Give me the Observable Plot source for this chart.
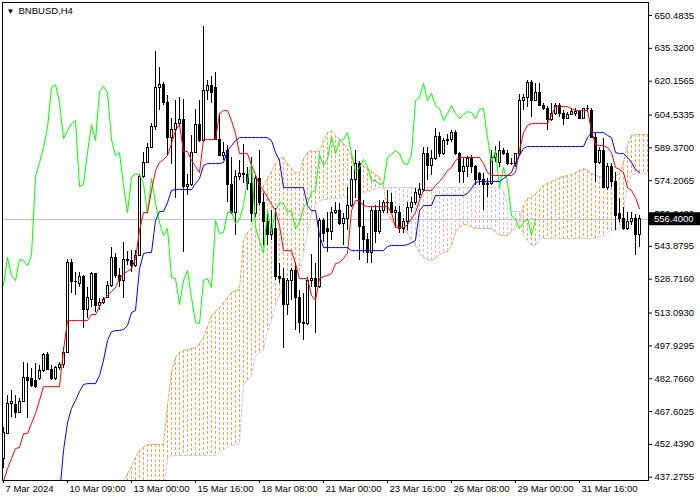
<!DOCTYPE html>
<html><head><meta charset="utf-8">
<script src="https://cdn.jsdelivr.net/npm/d3@7"></script>
<script src="https://cdn.jsdelivr.net/npm/@observablehq/plot@0.6"></script>
<style>body{margin:0;background:#fff;} svg{display:block;}</style>
</head><body><div id="chart"></div>
<script>
const symbol = "BNBUSD,H4";
const xTickBars = [0, 16, 32, 48, 64, 80, 96, 112, 128, 144];
const xTickLabels = ["7 Mar 2024", "10 Mar 09:00", "13 Mar 00:00", "15 Mar 16:00", "18 Mar 08:00", "21 Mar 00:00", "23 Mar 16:00", "26 Mar 08:00", "29 Mar 00:00", "31 Mar 16:00"];
const yTickValues = [650.4835, 635.3200, 620.1565, 604.5335, 589.3700, 574.2065, 559.0430, 543.8795, 528.7160, 513.0930, 497.9295, 482.7660, 467.6025, 452.4390, 437.2755];
const lastPrice = 556.4;

const opens = [
445.9, 457.4, 471.3, 470.8, 467.1, 471.8, 483.3, 482.8, 481.9, 482.8,
486.5, 493.5, 487.0, 482.8, 487.5, 489.3, 494.8, 536.4, 527.2, 526.3,
529.5, 514.7, 518.9, 530.9, 516.5, 517.9, 520.2, 525.8, 538.7, 530.4,
528.1, 537.8, 537.3, 535.0, 539.6, 576.1, 582.6, 589.5, 598.8, 617.2,
618.6, 610.3, 593.7, 597.4, 600.6, 602.0, 571.5, 572.4, 587.2, 600.1,
592.7, 615.4, 617.7, 616.8, 593.2, 585.8, 588.1, 572.0, 559.5, 575.7,
577.5, 577.0, 572.9, 559.0, 575.2, 563.7, 554.9, 548.9, 552.1, 529.5,
529.0, 517.0, 528.1, 532.7, 520.2, 508.7, 508.2, 528.1, 529.0, 524.9,
555.8, 552.1, 550.3, 559.5, 560.0, 554.4, 556.3, 562.7, 574.7, 582.1,
552.6, 546.6, 540.6, 560.4, 550.3, 560.4, 564.1, 563.7, 559.5, 559.5,
552.1, 554.9, 561.8, 564.1, 567.8, 569.7, 586.3, 581.2, 584.0, 594.6,
586.7, 592.7, 593.2, 596.4, 586.7, 578.0, 580.3, 584.0, 580.7, 577.5,
574.3, 572.4, 572.9, 584.9, 582.6, 588.1, 586.3, 582.1, 581.7, 586.3,
611.2, 612.6, 619.1, 611.2, 614.5, 608.9, 607.5, 602.0, 605.2, 608.9,
605.2, 602.9, 604.7, 605.2, 605.7, 602.9, 607.1, 606.6, 594.1, 582.6,
588.1, 571.0, 580.3, 573.4, 559.0, 556.7, 552.1, 554.9, 556.7, 548.9
];
const highs = [
460.2, 475.0, 477.3, 475.0, 473.6, 490.2, 489.8, 487.5, 489.8, 488.8,
494.4, 494.8, 488.8, 488.4, 490.2, 497.2, 537.8, 537.8, 531.8, 531.8,
530.4, 524.9, 531.8, 531.3, 519.8, 520.2, 527.6, 543.3, 540.6, 533.6,
545.6, 541.5, 541.9, 541.9, 577.0, 587.2, 591.4, 600.6, 633.8, 626.5,
619.5, 613.5, 602.9, 611.2, 612.6, 611.7, 577.0, 595.1, 607.1, 611.2,
645.4, 620.5, 622.3, 624.2, 605.2, 591.8, 590.4, 584.9, 578.9, 583.5,
590.9, 580.3, 584.9, 576.6, 588.1, 568.3, 559.0, 560.4, 561.3, 535.9,
533.6, 529.0, 533.6, 536.4, 523.5, 522.1, 529.5, 540.1, 535.9, 556.7,
556.7, 559.5, 561.8, 564.1, 563.7, 559.0, 571.0, 580.7, 588.1, 583.1,
565.0, 549.8, 561.8, 562.7, 565.0, 565.0, 569.7, 568.3, 562.3, 562.3,
556.7, 564.1, 566.4, 570.6, 572.9, 589.5, 589.5, 588.1, 598.3, 596.4,
593.7, 595.5, 597.4, 597.4, 587.2, 584.4, 585.4, 585.8, 581.2, 578.0,
577.5, 575.2, 588.1, 590.0, 592.3, 589.1, 588.1, 584.4, 586.7, 614.0,
614.0, 620.5, 620.5, 619.1, 619.1, 609.8, 608.4, 609.8, 609.8, 609.8,
606.6, 605.7, 607.5, 607.5, 606.6, 607.5, 608.9, 607.5, 596.0, 589.5,
593.7, 582.1, 582.1, 578.0, 566.0, 561.8, 559.5, 559.5, 558.6, 558.1
];
const lows = [
441.3, 457.4, 464.8, 464.4, 466.7, 471.8, 464.4, 478.7, 478.2, 481.9,
485.6, 486.5, 481.9, 481.9, 486.5, 487.5, 494.8, 522.1, 521.2, 524.9,
505.9, 510.5, 515.6, 513.3, 514.2, 517.0, 519.8, 524.9, 529.0, 524.9,
519.8, 535.0, 531.8, 534.1, 539.2, 575.2, 582.1, 589.1, 597.4, 606.6,
608.9, 585.8, 581.7, 566.0, 598.8, 541.0, 567.4, 571.5, 586.7, 591.8,
591.8, 611.2, 609.8, 592.7, 585.4, 583.5, 564.1, 558.6, 548.9, 574.3,
572.9, 569.7, 554.9, 557.2, 562.7, 544.3, 544.3, 546.6, 528.1, 526.7,
496.7, 511.9, 518.9, 505.0, 503.6, 500.4, 507.3, 524.9, 503.6, 524.4,
545.6, 541.0, 546.6, 558.6, 553.5, 544.3, 551.2, 561.8, 566.0, 537.3,
540.6, 535.9, 535.9, 545.2, 549.3, 559.0, 559.0, 559.0, 552.1, 549.8,
549.8, 551.2, 559.5, 562.7, 566.0, 568.7, 574.3, 576.6, 583.5, 584.9,
585.8, 590.4, 591.8, 585.8, 572.9, 572.9, 575.7, 577.5, 572.0, 572.0,
560.4, 566.4, 572.0, 582.6, 580.3, 585.8, 581.2, 581.2, 580.3, 585.8,
606.6, 608.0, 603.4, 610.8, 608.4, 606.6, 597.4, 601.5, 604.3, 603.4,
599.7, 602.4, 604.3, 603.8, 602.4, 602.4, 605.7, 593.7, 573.4, 581.7,
570.6, 569.7, 571.0, 551.2, 554.9, 551.2, 551.2, 553.5, 539.6, 543.3
];
const closes = [
457.9, 471.3, 471.8, 467.1, 472.2, 483.3, 481.9, 479.6, 479.1, 486.5,
493.5, 487.0, 482.8, 487.5, 489.3, 494.8, 536.4, 527.2, 527.6, 529.5,
514.7, 519.8, 530.9, 516.5, 517.9, 518.9, 525.8, 538.7, 530.4, 528.1,
537.8, 537.3, 535.0, 539.6, 576.1, 582.6, 589.5, 598.8, 617.2, 618.6,
610.3, 593.7, 597.4, 600.6, 602.0, 571.5, 572.4, 587.2, 600.1, 592.7,
615.4, 617.7, 614.9, 593.2, 585.8, 587.2, 572.0, 559.5, 575.7, 577.5,
577.0, 572.9, 559.0, 575.2, 563.7, 554.9, 548.9, 552.1, 529.5, 529.0,
517.0, 528.1, 532.7, 520.2, 508.7, 508.2, 528.1, 529.0, 524.9, 555.8,
549.8, 550.3, 559.5, 560.0, 554.4, 556.3, 562.7, 574.7, 582.1, 552.6,
546.6, 540.6, 560.4, 550.3, 560.4, 564.1, 563.7, 559.5, 560.4, 552.1,
554.9, 561.8, 564.1, 568.7, 569.7, 586.3, 581.2, 584.0, 594.6, 586.7,
592.7, 593.2, 596.4, 586.7, 578.0, 580.3, 584.0, 580.7, 574.3, 574.3,
572.4, 572.9, 584.9, 586.3, 588.1, 586.7, 582.1, 581.7, 586.3, 611.2,
612.6, 619.1, 611.2, 614.5, 608.9, 607.5, 602.0, 605.2, 608.9, 605.2,
602.9, 604.7, 606.1, 605.7, 602.9, 607.1, 607.5, 594.1, 582.6, 588.1,
571.0, 580.3, 573.4, 558.1, 556.7, 552.1, 554.9, 556.7, 548.9, 556.4
];
// Tenkan-sen (red)
const tenkan = [
435.3, 441.3, 445.9, 450.5, 451.0, 457.4, 457.4, 462.1, 466.7, 472.7,
479.1, 479.1, 479.1, 479.1, 479.1, 495.8, 509.6, 509.6, 509.6, 509.6,
509.6, 509.6, 512.4, 512.4, 516.1, 519.3, 521.2, 523.0, 524.9, 529.0,
531.3, 532.3, 533.6, 538.3, 551.2, 559.5, 559.5, 569.7, 578.9, 582.6,
584.0, 585.8, 591.4, 597.4, 600.1, 587.7, 587.7, 583.5, 580.7, 578.0,
593.2, 593.2, 593.2, 593.2, 605.2, 606.6, 606.6, 602.0, 596.0, 586.7,
586.7, 586.7, 581.2, 577.0, 572.0, 569.7, 566.4, 563.2, 560.4, 553.5,
541.9, 541.9, 541.9, 535.9, 529.0, 529.0, 529.0, 521.2, 518.9, 529.0,
529.9, 530.4, 531.3, 535.9, 536.4, 538.3, 540.6, 560.4, 565.0, 565.0,
562.7, 562.3, 562.3, 562.3, 562.3, 562.3, 562.3, 559.5, 552.6, 552.6,
552.6, 553.9, 556.7, 559.5, 565.0, 569.7, 569.7, 569.7, 572.0, 573.8,
576.1, 578.9, 580.3, 583.5, 584.9, 584.9, 584.9, 584.9, 584.9, 584.9,
582.1, 578.0, 576.6, 576.6, 576.6, 576.6, 576.6, 576.6, 578.0, 588.1,
596.4, 599.7, 600.6, 600.6, 600.6, 600.6, 600.6, 604.3, 608.4, 608.4,
608.4, 608.4, 607.5, 606.6, 606.6, 606.6, 606.6, 597.4, 590.9, 590.4,
590.4, 589.5, 587.2, 580.3, 579.4, 578.0, 571.0, 569.7, 566.4, 561.3
];
// Kijun-sen (blue)
const kijun = [
null, null, null, null, null, null, null, null, null, null,
null, null, null, null, 428.8, 449.6, 462.5, 469.0, 472.7, 476.8,
480.1, 480.5, 480.5, 480.5, 484.2, 491.2, 500.4, 504.5, 505.0, 505.0,
505.5, 507.3, 513.3, 514.2, 533.6, 540.6, 541.0, 541.0, 555.8, 560.0,
560.0, 564.1, 569.7, 570.1, 570.1, 570.1, 570.1, 570.1, 572.9, 575.2,
581.2, 582.1, 582.1, 582.1, 582.1, 582.6, 588.1, 590.4, 592.7, 594.1,
594.1, 594.1, 594.1, 594.1, 594.1, 594.1, 594.1, 592.7, 587.2, 583.5,
571.0, 571.0, 571.0, 571.0, 571.0, 571.0, 562.7, 560.4, 560.4, 548.9,
543.3, 543.3, 543.3, 543.3, 543.3, 543.3, 543.3, 541.9, 541.9, 541.9,
541.9, 541.9, 541.9, 541.9, 541.9, 541.9, 543.8, 544.3, 544.3, 544.3,
544.3, 544.7, 545.6, 546.6, 560.4, 562.7, 562.7, 562.7, 567.4, 567.4,
567.4, 567.4, 567.4, 567.4, 567.4, 567.4, 568.3, 570.6, 573.4, 573.8,
573.8, 573.8, 573.8, 573.8, 573.8, 575.2, 576.6, 578.0, 582.6, 585.8,
589.1, 590.0, 590.0, 590.0, 590.0, 590.0, 590.0, 590.0, 590.0, 590.0,
590.0, 590.0, 590.0, 590.0, 590.0, 590.0, 594.1, 596.4, 596.4, 596.4,
596.4, 595.1, 594.1, 587.2, 586.7, 586.7, 584.9, 582.6, 579.4, 578.0
];
// Senkou Span A (sandy brown, dotted)
const senkouA = [
null, null, null, null, null, null, null, null, null, null,
null, null, null, null, null, null, null, null, null, null,
null, null, null, null, null, null, null, null, null, null,
434.8, 439.0, 442.2, 446.4, 449.6, 451.0, 452.4, 452.4, 452.4, 452.4,
452.4, 470.4, 485.6, 492.5, 494.8, 495.8, 496.2, 496.7, 497.2, 499.0,
501.8, 506.9, 511.9, 513.8, 515.6, 517.9, 520.2, 522.6, 523.5, 524.0,
546.6, 550.3, 552.1, 560.4, 566.0, 572.0, 575.2, 578.4, 582.1, 584.4,
584.9, 582.1, 579.8, 578.0, 577.5, 584.4, 587.2, 588.1, 587.7, 587.7,
592.7, 596.4, 597.4, 595.1, 593.2, 591.4, 589.1, 585.4, 583.5, 582.6,
581.2, 579.8, 578.4, 577.0, 575.7, 572.0, 559.0, 555.8, 553.9, 553.0,
552.6, 549.8, 547.0, 544.3, 541.0, 538.7, 537.8, 537.3, 538.3, 540.1,
541.0, 541.5, 544.3, 550.3, 553.0, 553.9, 553.9, 552.6, 552.1, 552.1,
552.1, 552.1, 552.1, 550.3, 548.9, 548.9, 548.9, 550.7, 553.0, 555.3,
562.7, 566.0, 566.4, 568.3, 570.1, 572.0, 572.9, 573.8, 574.7, 575.7,
576.1, 576.6, 577.0, 578.0, 578.9, 579.8, 578.9, 577.5, 576.6, 576.1,
576.1, 575.7, 575.7, 576.1, 578.0, 582.6, 590.4, 595.1, 595.5, 595.5,
595.5, 595.5
];
// Senkou Span B (thistle, dotted)
const senkouB = [
null, null, null, null, null, null, null, null, null, null,
null, null, null, null, null, null, null, null, null, null,
null, null, null, null, null, null, null, null, null, null,
null, null, null, null, null, null, null, null, null, null,
431.1, 445.9, 447.3, 447.3, 447.3, 447.3, 447.3, 447.3, 447.3, 447.3,
447.3, 447.3, 447.3, 447.3, 448.7, 450.1, 451.0, 451.9, 452.4, 452.8,
480.5, 481.9, 483.8, 493.5, 494.8, 495.8, 505.0, 509.6, 516.5, 521.2,
525.3, 527.6, 529.0, 529.9, 531.3, 540.6, 549.8, 559.0, 562.7, 565.0,
565.5, 565.5, 566.0, 566.0, 566.0, 566.4, 566.9, 567.4, 567.8, 568.3,
568.7, 569.2, 569.7, 570.6, 571.0, 571.0, 571.0, 571.0, 571.0, 571.0,
571.0, 571.0, 571.0, 571.0, 571.0, 571.0, 571.0, 571.0, 571.0, 571.0,
571.0, 571.0, 571.0, 571.0, 571.0, 571.0, 571.0, 571.0, 571.0, 571.0,
571.0, 571.0, 571.0, 571.0, 571.0, 569.7, 562.7, 560.0, 560.0, 560.0,
548.9, 546.6, 544.3, 544.3, 547.5, 547.5, 547.5, 547.5, 547.5, 547.5,
547.5, 547.5, 547.5, 547.5, 547.5, 547.5, 547.5, 547.5, 547.5, 548.4,
548.9, 550.3, 551.2, 551.6, 552.1, 560.4, 572.0, 576.6, 577.5, 577.5,
577.5, 577.5
];

const yDomain = [435.75, 656.49];
const xDomain = [-0.25, 161.25];
const candles = opens.map((o, i) => ({i, open: o, high: highs[i], low: lows[i], close: closes[i]}));
const series = (arr) => arr.map((v, i) => ({i, v}));
const cloud = senkouA.map((a, i) => ({i, a, b: senkouB[i]})).filter(d => d.a != null);
const SANDY = "#F4A460", THISTLE = "#D8BFD8";
const CRISP = "crispEdges";

const chart = Plot.plot({
  width: 700, height: 500,
  marginLeft: 2, marginRight: 52, marginTop: 2, marginBottom: 20,
  x: {type: "linear", domain: xDomain, axis: null},
  y: {domain: yDomain, axis: null},
  style: {fontFamily: "'Liberation Sans', Arial, sans-serif", fontSize: "9.5px", background: "#fff", color: "#000"},
  marks: [
    Plot.ruleX(cloud, {x: "i", y1: "a", y2: d => d.b ?? yDomain[0],
      stroke: d => (d.b == null || d.a >= d.b) ? SANDY : THISTLE, strokeDasharray: "3,2", shapeRendering: CRISP, clip: true}),
    Plot.line(series(senkouA), {x: "i", y: "v", stroke: SANDY, strokeWidth: 1, strokeDasharray: "3,2", clip: true}),
    Plot.line(series(senkouB), {x: "i", y: "v", stroke: THISTLE, strokeWidth: 1, strokeDasharray: "3,2", clip: true}),
    Plot.ruleY([lastPrice], {stroke: "#c0c0c0", shapeRendering: CRISP}),
    Plot.ruleX(candles, {x: "i", y1: "low", y2: "high", stroke: "#000", shapeRendering: CRISP}),
    Plot.rect(candles, {x1: d => d.i - 0.25, x2: d => d.i + 0.25, y1: "open", y2: "close",
      fill: d => d.close >= d.open ? "#fff" : "#000", stroke: "#000", shapeRendering: CRISP}),
    Plot.line(candles.filter(d => d.i >= 26), {x: d => d.i - 26, y: "close", stroke: "#00ff00", strokeWidth: 1, clip: true}),
    Plot.line(series(tenkan), {x: "i", y: "v", stroke: "#ff0000", strokeWidth: 1, clip: true}),
    Plot.line(series(kijun), {x: "i", y: "v", stroke: "#0000ff", strokeWidth: 1, clip: true}),
    Plot.frame({stroke: "#000", shapeRendering: CRISP}),
    Plot.axisY({ticks: yTickValues, anchor: "right", tickSize: 3, tickPadding: 3, tickFormat: d => d.toFixed(4), label: null}),
    Plot.axisX({ticks: xTickBars, anchor: "bottom", tickSize: 3, tickFormat: () => "", label: null}),
    Plot.text(xTickBars, {x: d => d, text: (d, i) => xTickLabels[i], frameAnchor: "bottom",
      textAnchor: "start", lineAnchor: "top", dx: 2, dy: 5}),
    Plot.text([symbol], {frameAnchor: "top-left", text: d => d, dx: 16, dy: 5, textAnchor: "start", lineAnchor: "top"}),
    Plot.text(["\u25BC"], {frameAnchor: "top-left", text: d => d, dx: 4, dy: 6, textAnchor: "start", lineAnchor: "top", fontSize: 8})
  ]
});

document.getElementById("chart").appendChild(chart);

// current price tag on the right axis
const yScale = chart.scale("y");
const xScale = chart.scale("x");
const py = yScale.apply(lastPrice);
const right = xScale.range[1];
const svg = d3.select(chart);
const tag = svg.append("g");
tag.append("rect").attr("x", right + 1).attr("y", py - 6.5).attr("width", 700 - right - 1).attr("height", 13).attr("fill", "#000");
tag.append("text").attr("x", right + 6).attr("y", py).attr("dy", "0.35em").attr("fill", "#fff")
  .attr("text-anchor", "start")
  .attr("font-family", "'Liberation Sans', Arial, sans-serif").attr("font-size", "9.5px").text(lastPrice.toFixed(4));
</script>
</body></html>
